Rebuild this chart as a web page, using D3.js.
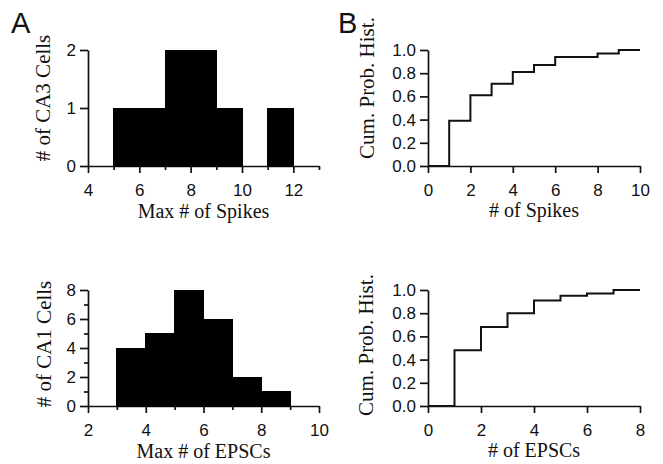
<!doctype html>
<html lang="en">
<head>
<meta charset="UTF-8">
<title>CA3 / CA1 histograms</title>
<style>
  body { margin: 0; background: #fff; }
  .tick text { font-family: 'Liberation Sans', Arial, sans-serif; font-size: 17px; fill: #111; }
  .title { font-family: 'Liberation Serif', 'Times New Roman', serif; fill: #111; }
  .panel { font-family: 'Liberation Sans', Arial, sans-serif; font-size: 29px; fill: #111; }
</style>
</head>
<body>
<div class="container"></div>
<script src="https://d3js.org/d3.v7.min.js"></script>
<script>
  // A, top: max # of spikes in CA3 cells (bins of width 1)
  const spikeBins = [5, 6, 7, 8, 9, 10, 11];
  const spikeCounts = [1, 1, 2, 2, 1, 0, 1];
  const spikeXTicks = [4, 6, 8, 10, 12];
  const spikeXMinor = [5, 7, 9, 11, 13];
  const spikeYTicks = [0, 1, 2];

  // A, bottom: max # of EPSCs in CA1 cells
  const epscBins = [3, 4, 5, 6, 7, 8];
  const epscCounts = [4, 5, 8, 6, 2, 1];
  const epscXTicks = [2, 4, 6, 8, 10];
  const epscXMinor = [3, 5, 7, 9];
  const epscYTicks = [0, 2, 4, 6, 8];
  const epscYMinor = [1, 3, 5, 7];

  // B: cumulative probability histograms
  const spikeCumX = [0, 1, 2, 3, 4, 5, 6, 8, 9, 10];
  const spikeCumP = [0, 0.39, 0.61, 0.71, 0.81, 0.87, 0.94, 0.97, 1.0, 1.0];
  const epscCumX = [0, 1, 2, 3, 4, 5, 6, 7, 8];
  const epscCumP = [0, 0.48, 0.68, 0.80, 0.91, 0.95, 0.97, 1.0, 1.0];
  const cumSpikeXTicks = [0, 2, 4, 6, 8, 10];
  const cumEpscXTicks = [0, 2, 4, 6, 8];
  const cumYTicks = [0, 0.2, 0.4, 0.6, 0.8, 1.0];

  const W = 663, H = 464;
  const INK = '#111';

  const svg = d3.select('.container')
    .append('svg')
    .attr('width', W)
    .attr('height', H);

  function styleAxis(g) {
    g.selectAll('path, line').attr('stroke', INK).attr('stroke-width', 1.7);
  }

  // draws both axes + minor ticks, returns scales
  function frame(p) {
    const x = d3.scaleLinear().domain(p.xDomain).range([p.left, p.right]);
    const y = d3.scaleLinear().domain(p.yDomain).range([p.bottom, p.top]);

    const xg = svg.append('g').attr('transform', `translate(0, ${p.bottom})`)
      .call(d3.axisBottom(x).tickValues(p.xTicks).tickSizeInner(7).tickSizeOuter(0).tickPadding(11));
    styleAxis(xg);

    if (p.xMinor) {
      const mg = svg.append('g').attr('transform', `translate(0, ${p.bottom})`)
        .call(d3.axisBottom(x).tickValues(p.xMinor).tickSize(4).tickFormat(''));
      mg.select('.domain').remove();
      styleAxis(mg);
    }

    const yg = svg.append('g').attr('transform', `translate(${p.left}, 0)`)
      .call(d3.axisLeft(y).tickValues(p.yTicks).tickSizeInner(8).tickSizeOuter(0).tickPadding(4)
        .tickFormat(p.yFormat || d3.format('d')));
    styleAxis(yg);

    if (p.yMinor) {
      const mg = svg.append('g').attr('transform', `translate(${p.left}, 0)`)
        .call(d3.axisLeft(y).tickValues(p.yMinor).tickSize(4).tickFormat(''));
      mg.select('.domain').remove();
      styleAxis(mg);
    }

    // axis titles
    svg.append('text').attr('class', 'title')
      .attr('x', (p.left + p.right) / 2).attr('y', p.xTitleY)
      .attr('text-anchor', 'middle').style('font-size', '20px')
      .text(p.xTitle);
    svg.append('text').attr('class', 'title')
      .attr('transform', `translate(${p.yTitleX}, ${p.yTitleY}) rotate(-90)`)
      .attr('text-anchor', 'middle').style('font-size', '21px')
      .text(p.yTitle);

    return { x, y };
  }

  function histogram(p, bins, counts) {
    const { x, y } = frame(p);
    svg.append('g')
      .attr('shape-rendering', 'crispEdges')
      .selectAll('rect')
      .data(bins)
      .join('rect')
      .attr('x', d => x(d))
      .attr('width', d => x(d + 1) - x(d))
      .attr('y', (d, i) => y(counts[i]))
      .attr('height', (d, i) => y(0) - y(counts[i]))
      .attr('fill', '#000')
      .attr('stroke', '#000')
      .attr('stroke-width', 1);
  }

  function cumulative(p, xs, ps) {
    const { x, y } = frame(p);
    const line = d3.line()
      .x(i => x(xs[i]))
      .y(i => y(ps[i]))
      .curve(d3.curveStepAfter);
    svg.append('path')
      .attr('d', line(d3.range(xs.length)))
      .attr('fill', 'none')
      .attr('stroke', INK)
      .attr('stroke-width', 2);
  }

  histogram({
    xDomain: [4, 13], yDomain: [0, 2], left: 88, right: 319, top: 50, bottom: 166,
    xTicks: spikeXTicks, xMinor: spikeXMinor, yTicks: spikeYTicks,
    xTitle: 'Max # of Spikes', xTitleY: 218,
    yTitle: '# of CA3 Cells', yTitleX: 50, yTitleY: 98
  }, spikeBins, spikeCounts);

  histogram({
    xDomain: [2, 10], yDomain: [0, 8], left: 88, right: 319, top: 290, bottom: 406,
    xTicks: epscXTicks, xMinor: epscXMinor, yTicks: epscYTicks, yMinor: epscYMinor,
    xTitle: 'Max # of EPSCs', xTitleY: 458,
    yTitle: '# of CA1 Cells', yTitleX: 51, yTitleY: 344
  }, epscBins, epscCounts);

  cumulative({
    xDomain: [0, 10], yDomain: [0, 1], left: 428, right: 640, top: 50, bottom: 166,
    xTicks: cumSpikeXTicks, yTicks: cumYTicks, yFormat: d3.format('.1f'),
    xTitle: '# of Spikes', xTitleY: 217,
    yTitle: 'Cum. Prob. Hist.', yTitleX: 374, yTitleY: 88
  }, spikeCumX, spikeCumP);

  cumulative({
    xDomain: [0, 8], yDomain: [0, 1], left: 428, right: 640, top: 290, bottom: 406,
    xTicks: cumEpscXTicks, yTicks: cumYTicks, yFormat: d3.format('.1f'),
    xTitle: '# of EPSCs', xTitleY: 457,
    yTitle: 'Cum. Prob. Hist.', yTitleX: 373, yTitleY: 345
  }, epscCumX, epscCumP);

  // panel letters
  svg.append('text').attr('class', 'panel').attr('x', 11).attr('y', 33).text('A');
  svg.append('text').attr('class', 'panel').attr('x', 338).attr('y', 33).text('B');
</script>
</body>
</html>
